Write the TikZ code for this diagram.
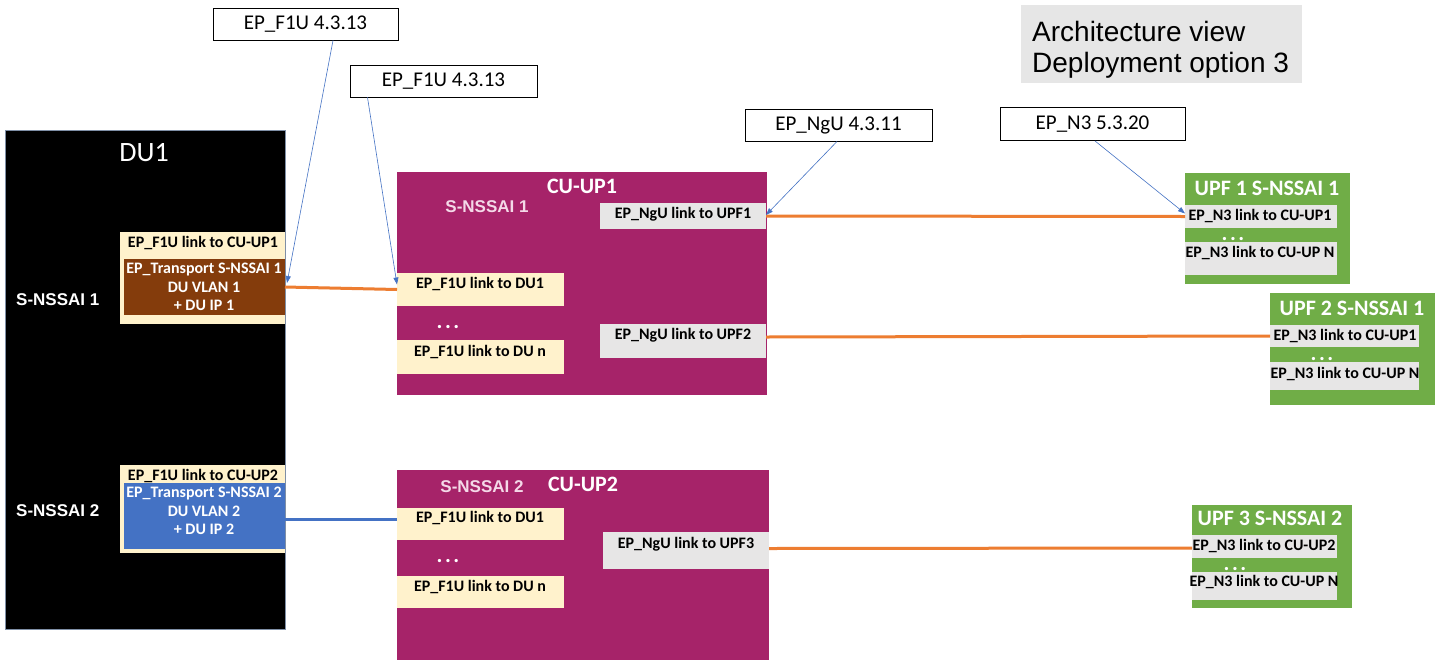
\documentclass[tikz,border=0pt]{standalone}
\usepackage{fontspec}
\setmainfont{Carlito}
\newfontfamily\arialfont{Liberation Sans}
\usetikzlibrary{arrows.meta}
\definecolor{cream}{HTML}{FFF2CC}
\definecolor{trbrown}{HTML}{843C0C}
\definecolor{trblue}{HTML}{4472C4}
\definecolor{cumag}{HTML}{A62369}
\definecolor{upfgreen}{HTML}{70AD47}
\definecolor{epgrey}{HTML}{E7E6E6}
\definecolor{ttlgrey}{HTML}{E6E6E6}
\definecolor{linkorange}{HTML}{ED7D31}
\definecolor{ptrblue}{HTML}{4472C4}
\definecolor{duborder}{HTML}{7F8FA6}
\definecolor{sliceink}{HTML}{F4D9E8}
\newcommand\Bx[6]{\node[box,fill=#6,minimum width={#4-#2},minimum height={#5-#3}] (#1) at (#2,#3) {};}
\newcommand\mydots{.\kern2.5pt.\kern2.5pt.}
\tikzset{
  box/.style={inner sep=0pt, outer sep=0pt, anchor=north west, draw=none},
  tb/.style={font=\fontsize{16}{18.5}\selectfont\bfseries, inner sep=0pt, text=black},
  wtb/.style={tb, text=white},
  dotsty/.style={font=\fontsize{22}{22}\selectfont\bfseries, inner sep=0pt, text=white, anchor=base, text height=5pt, text depth=0pt},
  ttlb/.style={font=\fontsize{22}{24}\selectfont\bfseries, inner sep=0pt, text=white},
  slice/.style={font=\arialfont\fontsize{17}{19}\selectfont\bfseries, inner sep=0pt},
  lbl/.style={draw=black, line width=0.9pt, fill=white, inner sep=0pt, font=\fontsize{21}{23}\selectfont},
  ptr/.style={draw=ptrblue, line width=0.6pt, -{Triangle[length=7pt,width=5pt]}},
  olink/.style={draw=linkorange, line width=3pt},
  blink/.style={draw=trblue, line width=3pt},
}
\begin{document}
\begin{tikzpicture}[x=1pt,y=-1pt]
\useasboundingbox[fill=white] (0,0) rectangle (1437,659);
% ---------- DU1 ----------
\node[box,fill=black,draw=duborder,line width=1pt,minimum width=280,minimum height=499] (du) at (5,130) {};
\node[font=\fontsize{28}{30}\selectfont, text=white, inner sep=0pt] (dut) at (144,153) {DU1};
\node[slice, text=white, anchor=west] (dus1) at (16,300) {S-NSSAI 1};
\node[slice, text=white, anchor=west] (dus2) at (16,511) {S-NSSAI 2};
\Bx{c1}{120}{232}{285}{324}{cream}
\node[tb] (c1t) at (203,243) {EP\_F1U link to CU-UP1};
\Bx{tr1}{124}{259}{285}{315}{trbrown}
\node[wtb, align=center] (tr1t) at (204,287) {EP\_Transport S-NSSAI 1\\DU VLAN 1\\+ DU IP 1};
\Bx{c2}{120}{465}{285}{553}{cream}
\node[tb] (c2t) at (203,476) {EP\_F1U link to CU-UP2};
\Bx{tr2}{124}{483}{285}{549}{trblue}
\node[wtb, align=center] (tr2t) at (204,511) {EP\_Transport S-NSSAI 2\\DU VLAN 2\\+ DU IP 2};
% ---------- CU-UP1 ----------
\Bx{cu1}{397}{172}{767}{395}{cumag}
\node[ttlb] (cu1t) at (582,186) {CU-UP1};
\node[slice, text=sliceink] (cu1s) at (487,207) {S-NSSAI 1};
\Bx{ngu1}{600}{203}{766}{229}{epgrey}
\node[tb] (ngu1t) at (683,214) {EP\_NgU link to UPF1};
\Bx{f1a}{397}{273}{564}{306}{cream}
\node[tb] (f1at) at (480,284) {EP\_F1U link to DU1};
\node[dotsty] (d1) at (448,328) {\mydots};
\Bx{f1b}{397}{340}{564}{374}{cream}
\node[tb] (f1bt) at (480,352) {EP\_F1U link to DU n};
\Bx{ngu2}{600}{324}{766}{358}{epgrey}
\node[tb] (ngu2t) at (683,335) {EP\_NgU link to UPF2};
% ---------- CU-UP2 ----------
\Bx{cu2}{397}{470}{769}{662}{cumag}
\node[slice, text=sliceink] (cu2s) at (482,487) {S-NSSAI 2};
\node[ttlb] (cu2t) at (583,484) {CU-UP2};
\Bx{f2a}{397}{508}{564}{540}{cream}
\node[tb] (f2at) at (480,518) {EP\_F1U link to DU1};
\node[dotsty] (d2) at (448,562) {\mydots};
\Bx{f2b}{397}{576}{564}{608}{cream}
\node[tb] (f2bt) at (480,587) {EP\_F1U link to DU n};
\Bx{ngu3}{603}{532}{769}{569}{epgrey}
\node[tb] (ngu3t) at (686,544) {EP\_NgU link to UPF3};
% ---------- UPFs ----------
\Bx{upf1}{1185}{173}{1350}{284}{upfgreen}
\node[ttlb] (upf1t) at (1267,188) {UPF 1 S-NSSAI 1};
\Bx{u1a}{1185}{205}{1337}{228}{epgrey}
\node[tb] (u1at) at (1260,216) {EP\_N3 link to CU-UP1};
\node[dotsty] (d3) at (1233,240) {\mydots};
\Bx{u1b}{1185}{242}{1337}{275}{epgrey}
\node[tb] (u1bt) at (1260,253) {EP\_N3 link to CU-UP N};
\Bx{upf2}{1270}{293}{1435}{405}{upfgreen}
\node[ttlb] (upf2t) at (1352,308) {UPF 2 S-NSSAI 1};
\Bx{u2a}{1270}{325}{1419}{347}{epgrey}
\node[tb] (u2at) at (1345,336) {EP\_N3 link to CU-UP1};
\node[dotsty] (d4) at (1322,360) {\mydots};
\Bx{u2b}{1270}{362}{1419}{390}{epgrey}
\node[tb] (u2bt) at (1345,374) {EP\_N3 link to CU-UP N};
\Bx{upf3}{1192}{505}{1352}{608}{upfgreen}
\node[ttlb] (upf3t) at (1270,518) {UPF 3 S-NSSAI 2};
\Bx{u3a}{1192}{535}{1337}{558}{epgrey}
\node[tb] (u3at) at (1264,546) {EP\_N3 link to CU-UP2};
\node[dotsty] (d5) at (1235,570) {\mydots};
\Bx{u3b}{1192}{572}{1337}{600}{epgrey}
\node[tb] (u3bt) at (1264,582) {EP\_N3 link to CU-UP N};
% ---------- title ----------
\Bx{ttl}{1021}{5}{1302}{83}{ttlgrey}
\node[font=\arialfont\fontsize{28}{31}\selectfont, inner sep=0pt, anchor=base west] (ttl1) at (1032,41) {Architecture view};
\node[font=\arialfont\fontsize{28}{31}\selectfont, inner sep=0pt, anchor=base west] (ttl2) at (1032,72) {Deployment option 3};
% ---------- reference labels ----------
\node[lbl, minimum width=185, minimum height=32] (l1) at (305.5,24) {EP\_F1U 4.3.13};
\node[lbl, minimum width=187, minimum height=32] (l2) at (443.5,81) {EP\_F1U 4.3.13};
\node[lbl, minimum width=187, minimum height=32] (l3) at (838.5,125) {EP\_NgU 4.3.11};
\node[lbl, minimum width=185, minimum height=33] (l4) at (1092.5,124) {EP\_N3 5.3.20};
% ---------- links ----------
\draw[olink] (tr1.east) -- (f1a.west);
\draw[blink] ([yshift=-3pt]tr2.east) -- ([yshift=5pt]f2a.west);
\draw[olink] (ngu1.east) -- (u1a.west);
\draw[olink] ([yshift=4pt]ngu2.east) -- (u2a.west);
\draw[olink] ([yshift=2pt]ngu3.east) -- ([yshift=-1.5pt]u3a.west);
% ---------- pointers ----------
\draw[ptr] ([xshift=27.5pt]l1.south) -- ([xshift=2pt,yshift=4pt]tr1.east);
\draw[ptr] ([xshift=-76pt]l2.south) -- ([yshift=5pt]f1a.west);
\draw[ptr] ([xshift=-1.5pt]l3.south) -- ([yshift=1pt]ngu1.east);
\draw[ptr] ([xshift=2.5pt]l4.south) -- ([yshift=3pt]u1a.west);
\end{tikzpicture}
\end{document}
